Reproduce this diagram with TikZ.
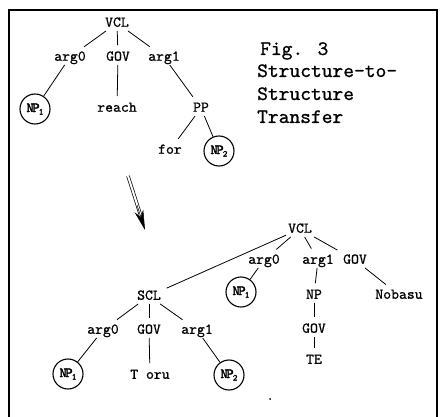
\documentclass[tikz,border=0pt]{standalone}
\usepackage{fontspec}
\newfontfamily\tw{lmmono10-regular.otf}[FakeBold=0.8]
\newfontfamily\twb{lmmono10-regular.otf}[FakeBold=2]
\usetikzlibrary{arrows.meta}
\tikzset{
  lab/.style={font=\tw\fontsize{15}{17}\selectfont, inner sep=2pt, text height=9.5pt, text depth=2pt},
  captxt/.style={font=\tw\fontsize{20.5}{22}\selectfont, inner sep=0pt, anchor=base west},
  npcirc/.style={circle, draw, line width=1.1pt, minimum size=30pt, inner sep=0pt, font=\twb\fontsize{14}{16}\selectfont},
  e/.style={line width=0.8pt, shorten >=4pt},
  ec/.style={line width=0.8pt},
  frame/.style={line width=1.2pt}
}
\newcommand{\npsub}[1]{N\kern-1.5ptP\kern-1pt\raisebox{-2.5pt}{\fontsize{9}{9}\selectfont #1}}
\begin{document}
\begin{tikzpicture}[x=1pt,y=-1pt]
\useasboundingbox (0,0) rectangle (442,417);
% frame
\coordinate (f1) at (9,417);
\coordinate (f2) at (9,10);
\coordinate (f3) at (437,10);
\coordinate (f4) at (437,417);
\draw[frame] (f1) -- (f2) -- (f3) -- (f4);
% caption
\node[captxt] (c1) at (260,55) {Fig. 3};
\node[captxt] (c2) at (257,77) {Structure-to-};
\node[captxt] (c3) at (257,100) {Structure};
\node[captxt] (c4) at (257,123) {Transfer};
% top tree
\node[lab] (vcl1) at (117,23) {VCL};
\node[lab] (arg0a) at (70,57) {arg0};
\node[lab] (gova) at (118,57) {GOV};
\node[lab] (arg1a) at (164,57) {arg1};
\node[npcirc] (np1a) at (35,109) {\npsub{1}};
\node[lab] (reach) at (117,108) {reach};
\node[lab] (pp) at (201,108) {PP};
\node[lab] (for) at (170,150) {for};
\node[npcirc] (np2a) at (219,151) {\npsub{2}};
\draw[e] (vcl1) -- (arg0a);
\draw[e] (vcl1) -- (gova);
\draw[e] (vcl1) -- (arg1a);
\draw[ec] (arg0a) -- (np1a);
\draw[e] (gova) -- (reach);
\draw[e] (arg1a) -- (pp);
\draw[e] (pp) -- (for);
\draw[ec] (pp) -- (np2a);
% arrow
\coordinate (a1) at (128,176);
\coordinate (a2) at (140.5,215);
\coordinate (a3) at (137,205);
\coordinate (atip) at (145,230);
\draw[line width=0.7pt, double, double distance=2pt] (a1) -- (a2);
\draw[line width=0.5pt, -{Stealth[length=20pt,width=9pt]}] (a3) -- (atip);
% bottom tree
\node[lab] (vcl2) at (300,229) {VCL};
\node[lab] (scl) at (149,296) {SCL};
\node[lab] (arg0b) at (103,330) {arg0};
\node[lab] (govb) at (149,330) {GOV};
\node[lab] (arg1b) at (197,330) {arg1};
\node[npcirc] (np1b) at (68,374) {\npsub{1}};
\node[lab] (toru) at (150,375) {T oru};
\node[npcirc] (np2b) at (229,375) {\npsub{2}};
\node[lab] (arg0c) at (264,260) {arg0};
\node[lab] (arg1c) at (318,260) {arg1};
\node[lab] (govc) at (355,260) {GOV};
\node[npcirc] (np1c) at (241,292) {\npsub{1}};
\node[lab] (npn) at (314,295) {NP};
\node[lab] (nobasu) at (399,295) {Nobasu};
\node[lab] (govd) at (314,329) {GOV};
\node[lab] (te) at (314,360) {TE};
\draw[e] (vcl2) -- (scl);
\draw[e] (vcl2) -- (arg0c);
\draw[e] (vcl2) -- (arg1c);
\draw[e] (vcl2) -- (govc);
\draw[ec] (arg0c) -- (np1c);
\draw[e] (arg1c) -- (npn);
\draw[e] (govc) -- (nobasu);
\draw[e] (npn) -- (govd);
\draw[e] (govd) -- (te);
\draw[e] (scl) -- (arg0b);
\draw[e] (scl) -- (govb);
\draw[e] (scl) -- (arg1b);
\draw[ec] (arg0b) -- (np1b);
\draw[e] (govb) -- (toru);
\draw[ec] (arg1b) -- (np2b);
% stray dot
\fill (270,399) circle (1pt);
\end{tikzpicture}
\end{document}
